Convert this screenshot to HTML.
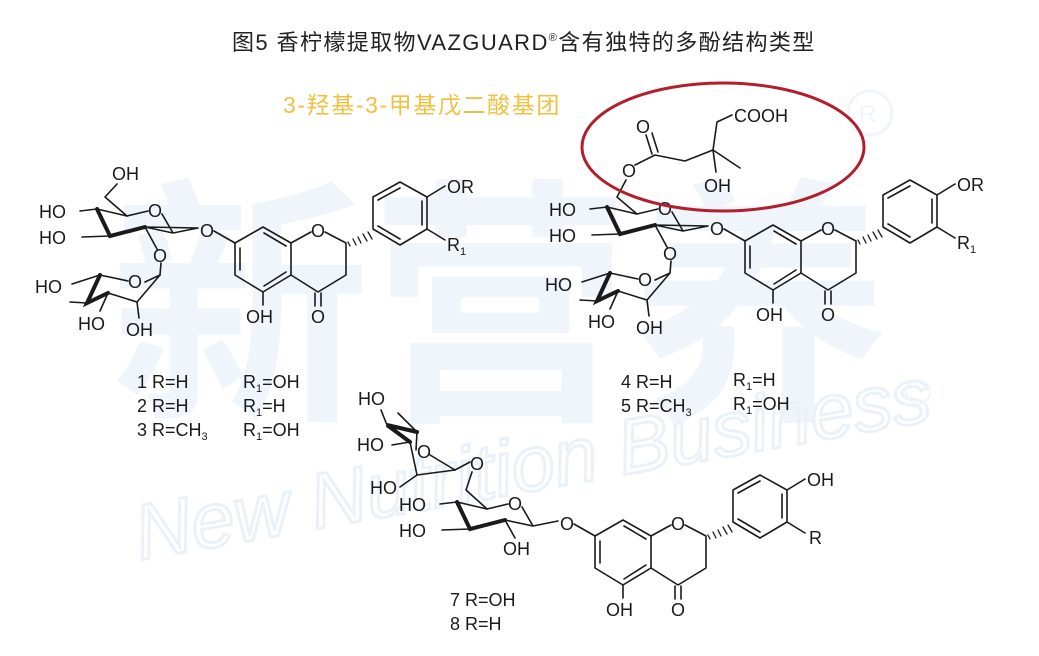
<!DOCTYPE html>
<html><head><meta charset="utf-8"><style>
html,body{margin:0;padding:0;background:#fff;}
svg{display:block;}
text{font-family:"Liberation Sans","Noto Sans CJK SC",sans-serif;fill:#1a1a1a;}
.l{stroke:#1a1a1a;stroke-width:1.6;fill:none;stroke-linecap:round;stroke-linejoin:round;}
.b{stroke:#1a1a1a;stroke-width:4;fill:none;stroke-linecap:round;}
.c{font-size:18px;}
</style></head><body>
<svg width="1039" height="656" viewBox="0 0 1039 656" xmlns="http://www.w3.org/2000/svg">
<rect width="1039" height="656" fill="#fff"/>
<!-- watermark -->
<g opacity="0.38">
<text x="110" y="400" style="font-size:260px;fill:#d6e5f2;font-weight:bold;font-family:'Noto Sans CJK SC',sans-serif;">新营养</text>
<text x="140" y="560" transform="rotate(-10 140 560)" style="font-size:78px;fill:none;stroke:#c9dcee;stroke-width:3;font-style:italic;">New Nutrition Business</text>
<circle cx="870" cy="113" r="22" fill="none" stroke="#d6e5f2" stroke-width="3"/>
<text x="859" y="122" style="font-size:24px;fill:#d6e5f2;">R</text>
<circle cx="918" cy="392" r="12" fill="none" stroke="#d6e5f2" stroke-width="2"/>
</g>
<text x="232" y="50" style="font-size:22px;fill:#222;letter-spacing:1.4px;">图5 香柠檬提取物VAZGUARD<tspan style="font-size:11px" dy="-9">®</tspan><tspan dy="9">含有独特的多酚结构类型</tspan></text>
<text x="283" y="113" style="font-size:23px;fill:#f0c040;letter-spacing:1.6px;">3-羟基-3-甲基戊二酸基团</text>

<!-- structure 1 -->
<g id="s1">
<path class="l" d="M263,227 L291,243 L291,275 L263,292 L235,275 L235,243 Z"/>
<path class="l" d="M240,248 L240,270 M264,233 L286,246 M264,286 L286,272"/>
<path class="l" d="M235,243 L214,231"/>
<path class="l" d="M263,292 L263,305"/>
<path class="l" d="M291,243 L311,232 M325,232 L346,243 L346,275 L318,292 L291,275"/>
<path class="l" d="M315,293 L315,306 M321,293 L321,306"/>
<path class="l" d="M348,242 L350,246 M353,239 L356,245 M358,237 L361,243 M363,234 L367,241 M368,232 L372,239" style="stroke-width:1.3"/>
<path class="l" d="M400,182 L427,197 L427,229 L400,245 L373,229 L373,197 Z"/>
<path class="l" d="M378,200 L400,188 M422,201 L422,225 M378,226 L400,239"/>
<path class="l" d="M427,197 L445,186 M427,229 L445,240"/>
<path class="l" d="M127,216 L148,211 M162,214 L173,233 L145,227 M97,209 L127,216 M145,227 L198,228 M173,233 L198,228"/>
<path class="b" d="M145,227 L110,236 L97,209"/>
<path class="l" d="M97,209 L80,211 M110,236 L82,237"/>
<path class="l" d="M145,227 L157,249 M161,263 L160,275"/>
<path class="l" d="M160,275 L145,282 M128,281 L100,275 L72,284 M108,293 L137,302 L160,275 M108,293 L100,311 M137,302 L139,318"/>
<path class="b" d="M100,275 L87,303 L108,293"/>
<path class="l" d="M87,303 L70,302"/>
</g>
<g>
<text class="c" x="200" y="237">O</text>
<text class="c" x="246" y="323">OH</text>
<text class="c" x="311" y="237">O</text>
<text class="c" x="311" y="323">O</text>
<text class="c" x="447" y="193">OR</text>
<text class="c" x="447" y="251">R<tspan style="font-size:11px" dy="4">1</tspan></text>
<text class="c" x="148" y="217">O</text>
<text class="c" x="39" y="218">HO</text>
<text class="c" x="39" y="244">HO</text>
<text class="c" x="153" y="262">O</text>
<text class="c" x="128" y="288">O</text>
<text class="c" x="35" y="293">HO</text>
<text class="c" x="78" y="330">HO</text>
<text class="c" x="126" y="336">OH</text>
<path class="l" d="M105,197 L127,216 M105,197 L117,184"/>
<text class="c" x="112" y="180">OH</text>
</g>
<text class="c" x="137" y="388">1 R=H</text>
<text class="c" x="243" y="388">R<tspan style="font-size:11px" dy="4">1</tspan><tspan dy="-4">=OH</tspan></text>
<text class="c" x="137" y="412">2 R=H</text>
<text class="c" x="243" y="412">R<tspan style="font-size:11px" dy="4">1</tspan><tspan dy="-4">=H</tspan></text>
<text class="c" x="137" y="436">3 R=CH<tspan style="font-size:11px" dy="4">3</tspan></text>
<text class="c" x="243" y="436">R<tspan style="font-size:11px" dy="4">1</tspan><tspan dy="-4">=OH</tspan></text>

<!-- structure 4 -->
<use href="#s1" transform="translate(510,-2)"/>
<g transform="translate(510,-2)">
<text class="c" x="200" y="237">O</text>
<text class="c" x="246" y="323">OH</text>
<text class="c" x="311" y="237">O</text>
<text class="c" x="311" y="323">O</text>
<text class="c" x="447" y="193">OR</text>
<text class="c" x="447" y="251">R<tspan style="font-size:11px" dy="4">1</tspan></text>
<text class="c" x="148" y="217">O</text>
<text class="c" x="39" y="218">HO</text>
<text class="c" x="39" y="244">HO</text>
<text class="c" x="153" y="262">O</text>
<text class="c" x="128" y="288">O</text>
<text class="c" x="35" y="293">HO</text>
<text class="c" x="78" y="330">HO</text>
<text class="c" x="126" y="336">OH</text>
</g>
<path class="l" d="M637,214 L617,197 L626,180"/>
<text class="c" x="622" y="177">O</text>
<path class="l" d="M635,165 L655,155 L685,161 L713,150 L740,168 M713,150 L716,172 M713,150 L717,122 L732,115"/>
<path class="l" d="M652,154 L646,135 M658,152 L652,133"/>
<text class="c" x="636" y="133">O</text>
<text class="c" x="704" y="192">OH</text>
<text class="c" x="734" y="122">COOH</text>
<ellipse cx="723" cy="147" rx="141" ry="64" fill="none" stroke="#b21f2c" stroke-width="3"/>
<text class="c" x="621" y="388">4 R=H</text>
<text class="c" x="733" y="386">R<tspan style="font-size:11px" dy="4">1</tspan><tspan dy="-4">=H</tspan></text>
<text class="c" x="621" y="412">5 R=CH<tspan style="font-size:11px" dy="4">3</tspan></text>
<text class="c" x="733" y="410">R<tspan style="font-size:11px" dy="4">1</tspan><tspan dy="-4">=OH</tspan></text>

<!-- structure 7 -->
<g transform="translate(360,293)">
<path class="l" d="M263,227 L291,243 L291,275 L263,292 L235,275 L235,243 Z"/>
<path class="l" d="M240,248 L240,270 M264,233 L286,246 M264,286 L286,272"/>
<path class="l" d="M235,243 L214,231 M263,292 L263,305"/>
<path class="l" d="M291,243 L311,232 M325,232 L346,243 L346,275 L318,292 L291,275"/>
<path class="l" d="M315,293 L315,306 M321,293 L321,306"/>
<path class="l" d="M348,242 L350,246 M353,239 L356,245 M358,237 L361,243 M363,234 L367,241 M368,232 L372,239" style="stroke-width:1.3"/>
<path class="l" d="M400,182 L427,197 L427,229 L400,245 L373,229 L373,197 Z"/>
<path class="l" d="M378,200 L400,188 M422,201 L422,225 M378,226 L400,239"/>
<path class="l" d="M427,197 L445,186 M427,229 L445,240"/>
<path class="l" d="M127,216 L148,211 M162,214 L173,233 L145,227 M97,209 L127,216 M173,233 L198,228"/>
<path class="b" d="M145,227 L110,236 L97,209"/>
<path class="l" d="M97,209 L80,211 M110,236 L82,237 M145,227 L155,245"/>
<text class="c" x="200" y="237">O</text>
<text class="c" x="246" y="323">OH</text>
<text class="c" x="311" y="237">O</text>
<text class="c" x="311" y="323">O</text>
<text class="c" x="447" y="193">OH</text>
<text class="c" x="449" y="251">R</text>
<text class="c" x="148" y="217">O</text>
<text class="c" x="39" y="218">HO</text>
<text class="c" x="39" y="244">HO</text>
<text class="c" x="143" y="262">OH</text>
</g>
<path class="l" d="M487,509 L466,490 L472,472 M470,462 L455,470"/>
<text class="c" x="470" y="470">O</text>
<path class="l" d="M455,470 L430,455 M416,450 L417,432 L398,413 M410,442 L417,475 L455,470 M387,425 L381,410 M410,442 L392,445 M417,475 L400,487"/>
<path class="b" d="M417,432 L387,425 L410,442"/>
<text class="c" x="417" y="458">O</text>
<text class="c" x="358" y="405">HO</text>
<text class="c" x="357" y="451">HO</text>
<text class="c" x="370" y="494">HO</text>
<text class="c" x="450" y="606">7 R=OH</text>
<text class="c" x="450" y="630">8 R=H</text>
</svg>
</body></html>
